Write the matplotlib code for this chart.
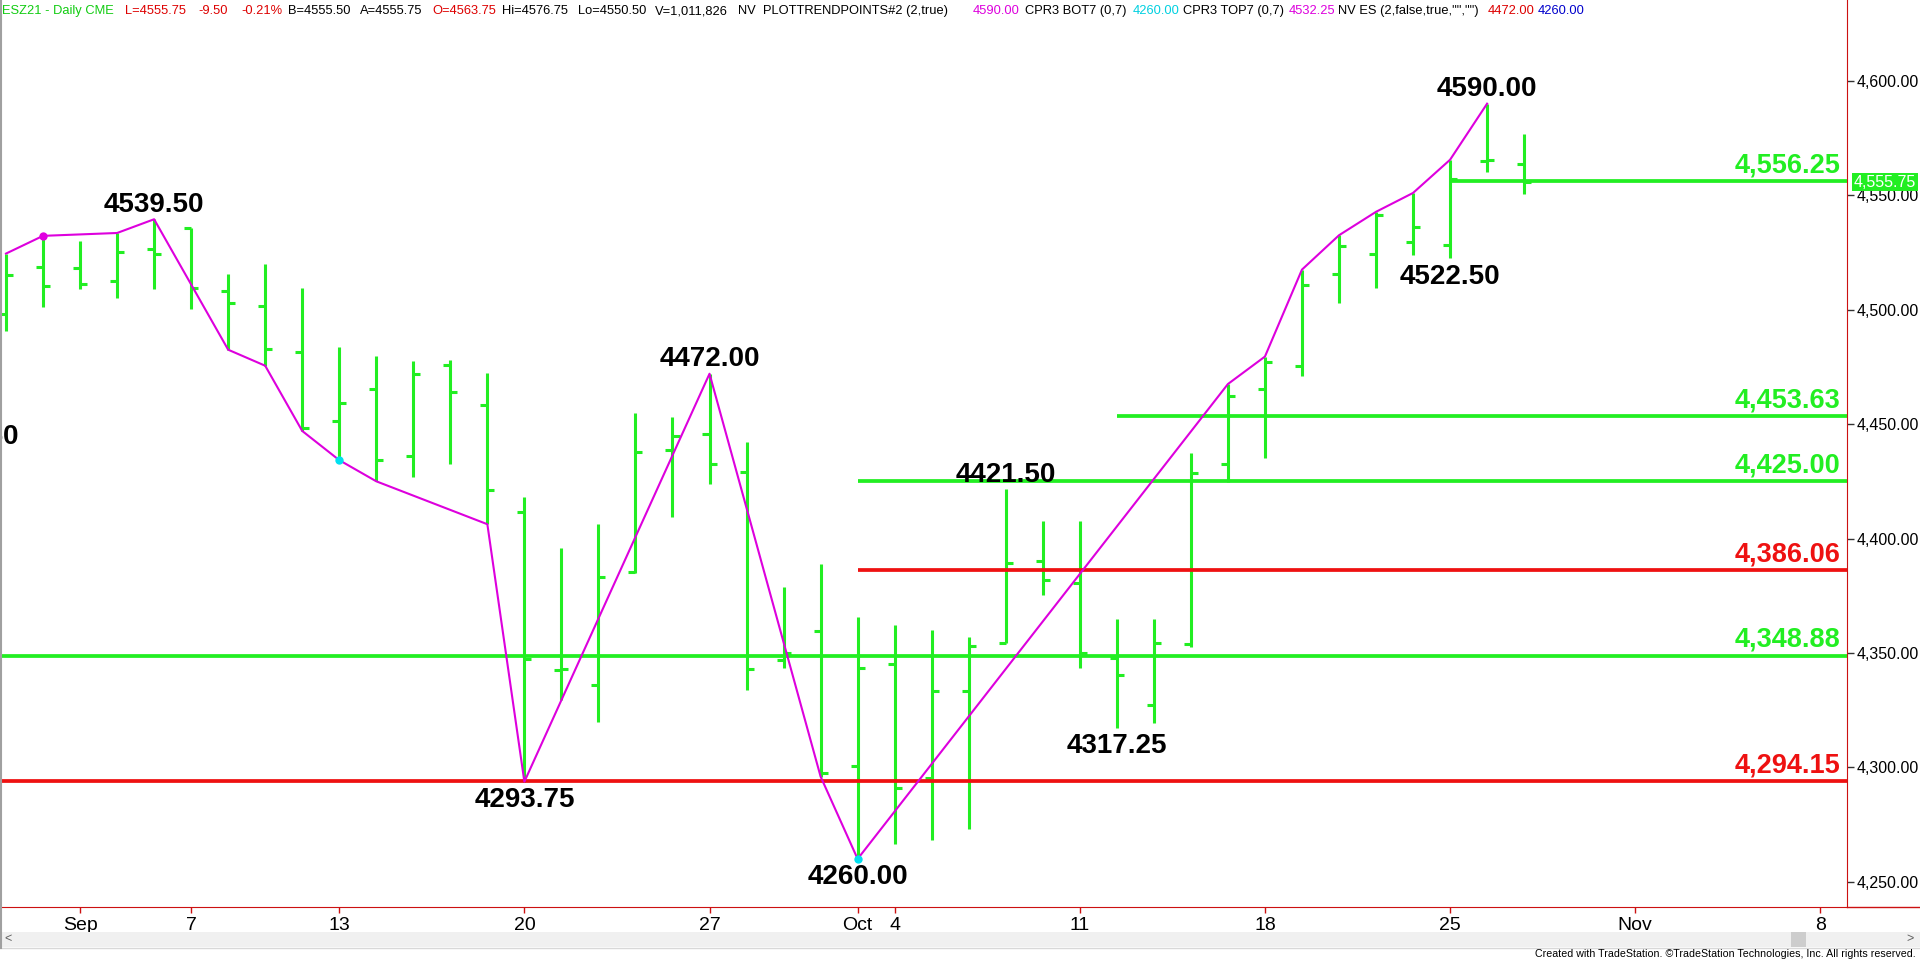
import matplotlib
matplotlib.use("Agg")
import matplotlib.pyplot as plt
import pandas as pd
from matplotlib.lines import Line2D
from matplotlib.patches import Rectangle

plt.rcParams['font.family'] = ['Liberation Sans', 'DejaVu Sans']

# ESZ21 daily bars
bar_dates = ["2021-08-30", "2021-08-31", "2021-09-01", "2021-09-02", "2021-09-03",
             "2021-09-07", "2021-09-08", "2021-09-09", "2021-09-10", "2021-09-13",
             "2021-09-14", "2021-09-15", "2021-09-16", "2021-09-17", "2021-09-20",
             "2021-09-21", "2021-09-22", "2021-09-23", "2021-09-24", "2021-09-27",
             "2021-09-28", "2021-09-29", "2021-09-30", "2021-10-01", "2021-10-04",
             "2021-10-05", "2021-10-06", "2021-10-07", "2021-10-08", "2021-10-11",
             "2021-10-12", "2021-10-13", "2021-10-14", "2021-10-15", "2021-10-18",
             "2021-10-19", "2021-10-20", "2021-10-21", "2021-10-22", "2021-10-25",
             "2021-10-26", "2021-10-27"]
opens = [4498.0, 4518.5, 4518.0, 4512.5, 4526.5, 4535.5, 4508.25, 4501.5, 4481.5, 4451.5,
         4465.25, 4436.25, 4475.75, 4458.5, 4411.5, 4342.5, 4336.0, 4385.5, 4438.75, 4445.5,
         4429.25, 4347.0, 4359.5, 4300.5, 4345.0, 4295.25, 4333.5, 4354.5, 4390.0, 4380.75,
         4348.0, 4327.25, 4354.0, 4432.5, 4465.25, 4475.5, 4515.5, 4524.5, 4529.5, 4528.25,
         4564.75, 4563.75]
highs = [4524.5, 4532.25, 4530.0, 4533.5, 4539.5, 4535.75, 4515.5, 4520.0, 4509.25, 4483.75,
         4479.75, 4477.75, 4478.0, 4472.5, 4418.0, 4395.75, 4406.5, 4455.0, 4453.0, 4472.0,
         4442.0, 4378.75, 4389.0, 4365.5, 4362.0, 4360.0, 4357.0, 4421.5, 4407.5, 4407.5,
         4365.0, 4364.75, 4437.25, 4467.5, 4479.5, 4517.5, 4532.5, 4542.75, 4551.0, 4565.5,
         4590.0, 4576.75]
lows = [4490.5, 4501.0, 4509.0, 4505.25, 4509.0, 4500.5, 4482.5, 4475.5, 4447.0, 4434.25,
        4425.0, 4426.75, 4432.5, 4406.25, 4293.75, 4329.5, 4320.0, 4384.75, 4409.5, 4424.0,
        4333.75, 4343.25, 4296.0, 4260.0, 4266.5, 4268.25, 4273.0, 4354.25, 4375.25, 4343.25,
        4317.25, 4319.5, 4352.75, 4424.75, 4435.25, 4471.0, 4503.0, 4509.25, 4524.0, 4522.5,
        4560.25, 4550.5]
closes = [4515.0, 4510.5, 4511.0, 4525.0, 4524.25, 4509.25, 4502.75, 4482.75, 4448.5, 4459.0,
          4434.25, 4472.0, 4464.0, 4421.0, 4347.5, 4343.0, 4383.25, 4437.75, 4445.0, 4432.5,
          4343.0, 4350.0, 4297.5, 4343.25, 4291.0, 4333.5, 4353.25, 4389.5, 4382.0, 4350.0,
          4340.25, 4354.5, 4428.5, 4462.25, 4477.0, 4510.75, 4527.75, 4541.5, 4536.0, 4557.0,
          4565.25, 4555.75]

# trend points line (magenta)
trend_dates = ["2021-08-30", "2021-08-31", "2021-09-02", "2021-09-03", "2021-09-08",
               "2021-09-09", "2021-09-10", "2021-09-13", "2021-09-14", "2021-09-17",
               "2021-09-20", "2021-09-27", "2021-09-30", "2021-10-01", "2021-10-15",
               "2021-10-18", "2021-10-19", "2021-10-20", "2021-10-21", "2021-10-22",
               "2021-10-25", "2021-10-26"]
trend_values = [4524.5, 4532.25, 4533.5, 4539.5, 4482.5, 4475.5, 4447.0, 4434.25, 4425.0,
                4406.25, 4293.75, 4472.0, 4296.0, 4260.0, 4467.5, 4479.5, 4517.5, 4532.5,
                4542.75, 4551.0, 4565.5, 4590.0]

# CPR3 dots
dot_dates = ["2021-08-31", "2021-09-13", "2021-10-01"]
dot_values = [4532.25, 4434.25, 4260.0]
dot_colors = ["#e000e0", "#00e0f0", "#00e0f0"]

# swing labels
swing_dates = ["2021-08-27", "2021-09-03", "2021-09-20", "2021-09-27", "2021-10-01",
               "2021-10-07", "2021-10-12", "2021-10-25", "2021-10-26"]
swing_values = [4452.50, 4539.50, 4293.75, 4472.00, 4260.00, 4421.50, 4317.25, 4522.50, 4590.00]
swing_kind = ["L", "H", "L", "H", "L", "H", "L", "L", "H"]

# support / resistance levels
level_values = [4556.25, 4453.63, 4425.00, 4386.06, 4348.88, 4294.15]
level_colors = ["#22ee22", "#22ee22", "#22ee22", "#ee1111", "#22ee22", "#ee1111"]
level_start = ["2021-10-25", "2021-10-12", "2021-10-01", "2021-10-01", None, None]

last_price = 4555.75

tick_dates = ["2021-09-01", "2021-09-07", "2021-09-13", "2021-09-20", "2021-09-27",
              "2021-10-01", "2021-10-04", "2021-10-11", "2021-10-18", "2021-10-25",
              "2021-11-01", "2021-11-08"]
tick_labels = ["Sep", "7", "13", "20", "27", "Oct", "4", "11", "18", "25", "Nov", "8"]
price_ticks = [4250, 4300, 4350, 4400, 4450, 4500, 4550, 4600]

# status line at the top: (x pixel, text, colour)
header = [
    (2, "ESZ21 - Daily CME", "#11cc11"),
    (125, "L=4555.75", "#dd0000"),
    (198, "-9.50", "#dd0000"),
    (241, "-0.21%", "#dd0000"),
    (288, "B=4555.50", "black"),
    (360, "A=4555.75", "black"),
    (432, "O=4563.75", "#dd0000"),
    (502, "Hi=4576.75", "black"),
    (578, "Lo=4550.50", "black"),
    (655, "V=1,011,826", "black"),
    (738, "NV", "black"),
    (763, "PLOTTRENDPOINTS#2 (2,true)", "black"),
    (973, "4590.00", "#dd00dd"),
    (1025, "CPR3 BOT7 (0,7)", "black"),
    (1133, "4260.00", "#00d0e0"),
    (1183, "CPR3 TOP7 (0,7)", "black"),
    (1289, "4532.25", "#dd00dd"),
    (1338, 'NV ES (2,false,true,"","")', "black"),
    (1488, "4472.00", "#dd0000"),
    (1538, "4260.00", "#0000cc"),
]

# trading-day axis (Labor Day skipped)
days = [d.strftime("%Y-%m-%d") for d in pd.bdate_range("2021-08-27", "2021-11-12")]
days.remove("2021-09-06")
pos = {d: i for i, d in enumerate(days)}

BAR_GREEN = "#22ee22"
W, H = 1920, 963

fig = plt.figure(figsize=(19.2, 9.63), dpi=100)
ax = fig.add_axes([0, 56 / H, 1847 / W, 907 / H])
ax.set_xlim(0.838, 50.72)
ax.set_ylim(4239.0, 4635.3)

# OHLC bars
xs = [pos[d] for d in bar_dates]
tk = 0.19
ax.vlines(xs, lows, highs, color=BAR_GREEN, lw=2.2, zorder=3)
ax.hlines(opens, [x - tk for x in xs], xs, color=BAR_GREEN, lw=2.2, zorder=3)
ax.hlines(closes, xs, [x + tk for x in xs], color=BAR_GREEN, lw=2.2, zorder=3)

# levels
for v, c, s in zip(level_values, level_colors, level_start):
    x0 = pos[s] if s else ax.get_xlim()[0]
    ax.plot([x0, ax.get_xlim()[1]], [v, v], color=c, lw=2.7, zorder=4,
            solid_capstyle='butt')
    ax.annotate("{:,.2f}".format(v), xy=(1, v), xycoords=('axes fraction', 'data'),
                xytext=(-5, 2), textcoords='offset points', ha='right', va='bottom',
                fontsize=19.5, fontweight='bold', color=c, zorder=6)

# trend line + dots
ax.plot([pos[d] for d in trend_dates], trend_values, color="#dd00dd", lw=1.5, zorder=5)
for d, v, c in zip(dot_dates, dot_values, dot_colors):
    ax.plot(pos[d], v, 'o', color=c, ms=6, mec='none', zorder=6)

# swing labels (the first one sits off the left edge and is cut)
for d, v, k in zip(swing_dates, swing_values, swing_kind):
    if k == "H":
        off, va = 1, 'bottom'
    else:
        off, va = -4, 'top'
    t = ax.annotate("{:.2f}".format(v), xy=(pos[d], v), xytext=(0, off),
                    textcoords='offset points', ha='center', va=va,
                    fontsize=20, fontweight='bold', color='black', zorder=7,
                    annotation_clip=False)
    t.set_clip_on(True)

# axes styling
ax.spines['top'].set_visible(False)
ax.spines['left'].set_color('#a0a0a0')
ax.spines['right'].set_color('#cc1111')
ax.spines['bottom'].set_color('#cc1111')

ax.yaxis.tick_right()
ax.set_yticks(price_ticks)
ax.set_yticklabels(["{:,.2f}".format(p) for p in price_ticks])
ax.tick_params(axis='y', length=5, width=1, color='#333333', pad=2, labelsize=11.5)

ax.set_xticks([pos[d] for d in tick_dates])
ax.set_xticklabels(tick_labels)
ax.tick_params(axis='x', length=4, width=1, color='#cc1111', pad=3, labelsize=14)

# last price box
ax.annotate("{:,.2f}".format(last_price), xy=(1, last_price),
            xycoords=('axes fraction', 'data'), xytext=(5, 0), textcoords='offset points',
            ha='left', va='center', fontsize=11.5, color='white', annotation_clip=False,
            bbox=dict(boxstyle='square,pad=0.12', fc=BAR_GREEN, ec='none'), zorder=10)

# bottom red line under price scale
fig.add_artist(Line2D([1847 / W, 1], [56 / H, 56 / H], color='#cc1111', lw=1))

for x, s, c in header:
    fig.text(x / W, 1 - 11 / H, s, color=c, fontsize=9.3, ha='left', va='center')

# scrollbar + footer
fig.add_artist(Rectangle((0, (H - 947) / H), 1, 15 / H, transform=fig.transFigure,
                         fc='#f0f0f0', ec='none'))
fig.add_artist(Rectangle((1791 / W, (H - 947) / H), 15 / W, 15 / H,
                         transform=fig.transFigure, fc='#cdcdcd', ec='none'))
fig.add_artist(Line2D([0, 1], [(H - 948) / H] * 2, color='#d8d8d8', lw=1))
fig.add_artist(Line2D([0.5 / W, 0.5 / W], [(H - 948) / H, 1], color='#a0a0a0', lw=1.5))
fig.text(4 / W, 1 - 939 / H, "<", color='#606060', fontsize=9, va='center')
fig.text(1906 / W, 1 - 939 / H, ">", color='#606060', fontsize=9, va='center')
fig.text(1916 / W, 1 - 954 / H,
         "Created with TradeStation. \u00a9TradeStation Technologies, Inc. All rights reserved.",
         ha='right', va='center', fontsize=7.7, color='black')

fig.savefig("out.png", dpi=100, facecolor='white')
